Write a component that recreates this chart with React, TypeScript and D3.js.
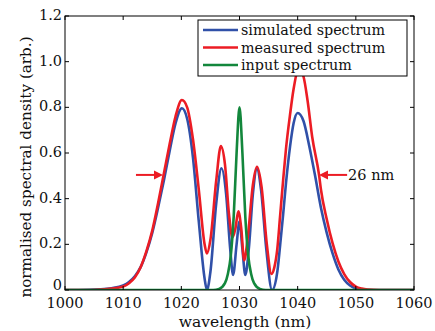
import React, { useMemo } from 'react';
import * as d3 from 'd3';

// [wavelength (nm), normalised spectral density]
const simulated: [number, number][] = [
  [1000, 0], [1004, 0.001], [1006, 0.003], [1008, 0.008], [1010, 0.02], [1011, 0.035],
  [1012, 0.06], [1013, 0.1], [1014, 0.165], [1015, 0.25], [1016, 0.36], [1017, 0.48],
  [1018, 0.61], [1019, 0.73], [1020.1, 0.796], [1021, 0.75], [1022, 0.58], [1023, 0.3],
  [1024, 0.05], [1024.4, 0], [1025, 0.08], [1026, 0.38], [1026.9, 0.533], [1027.7, 0.42],
  [1028.4, 0.18], [1028.9, 0.066], [1029.5, 0.2], [1030, 0.3], [1030.5, 0.18], [1031, 0.066],
  [1031.6, 0.18], [1032.3, 0.42], [1033, 0.53], [1033.7, 0.44], [1034.6, 0.18], [1035.6, 0],
  [1036.5, 0.08], [1037, 0.2], [1037.5, 0.33], [1038, 0.47], [1038.7, 0.63], [1039.3, 0.73],
  [1040, 0.775], [1041, 0.74], [1042, 0.63], [1043, 0.5], [1044, 0.36], [1045, 0.25],
  [1046, 0.16], [1047, 0.09], [1048, 0.045], [1049, 0.02], [1050, 0.007], [1051, 0.002],
  [1053, 0], [1060, 0],
];

const measured: [number, number][] = [
  [1000, 0], [1004, 0], [1006, 0.002], [1008, 0.006], [1010, 0.015], [1011, 0.03],
  [1012, 0.055], [1013, 0.1], [1014, 0.17], [1015, 0.26], [1016, 0.38], [1017, 0.51],
  [1018, 0.64], [1019, 0.76], [1020.1, 0.832], [1021, 0.8], [1022, 0.66], [1023, 0.44],
  [1024, 0.2], [1024.4, 0.16], [1025, 0.22], [1026, 0.48], [1026.8, 0.63], [1027.5, 0.55],
  [1028.2, 0.33], [1028.8, 0.23], [1029.3, 0.27], [1029.8, 0.345], [1030.3, 0.27],
  [1030.8, 0.13], [1031.5, 0.25], [1032.3, 0.46], [1033, 0.54], [1033.8, 0.45],
  [1034.7, 0.2], [1035.5, 0.07], [1036, 0.1], [1036.5, 0.18], [1037, 0.33], [1037.5, 0.48],
  [1038, 0.62], [1038.7, 0.77], [1039.3, 0.88], [1040.2, 0.97], [1041, 0.935],
  [1041.7, 0.83], [1042.5, 0.67], [1043.7, 0.5], [1044, 0.44], [1045, 0.31], [1046, 0.205],
  [1047, 0.125], [1048, 0.07], [1049, 0.035], [1050, 0.015], [1051, 0.006], [1052, 0.002],
  [1054, 0], [1060, 0],
];

const input: [number, number][] = [
  [1000, 0], [1025.5, 0], [1026.5, 0.005], [1027.5, 0.03], [1028, 0.07], [1028.5, 0.15],
  [1029, 0.32], [1029.5, 0.6], [1030, 0.8], [1030.5, 0.6], [1031, 0.32], [1031.5, 0.15],
  [1032, 0.07], [1032.5, 0.03], [1033.5, 0.005], [1034.5, 0], [1060, 0],
];

const xTicks = [1000, 1010, 1020, 1030, 1040, 1050, 1060];
const yTicks = [0, 0.2, 0.4, 0.6, 0.8, 1.0, 1.2];
const yTickLabels = ['0', '0.2', '0.4', '0.6', '0.8', '1.0', '1.2'];
const legendLabels = ['simulated spectrum', 'measured spectrum', 'input spectrum'];
const fwhmLabel = '26 nm';
// FWHM arrows: [tail x, tip x, y]
const fwhmArrows: [number, number, number][] = [
  [1012.2, 1016.85, 0.504],
  [1048.5, 1043.67, 0.504],
];

const BLUE = '#3050a8';
const RED = '#ec1c24';
const GREEN = '#13873c';
const FONT = 'DejaVu Serif';

const W = 435;
const H = 331;
const margin = { top: 16, right: 21, bottom: 41, left: 65 };

const App = () => {
  const innerWidth = W - margin.left - margin.right;
  const innerHeight = H - margin.top - margin.bottom;

  const { x, y, line } = useMemo(() => {
    const x = d3.scaleLinear().domain([1000, 1060]).range([0, innerWidth]);
    const y = d3.scaleLinear().domain([0, 1.2]).range([innerHeight, 0]);
    const line = d3.line<[number, number]>()
      .x(d => x(d[0]))
      .y(d => y(d[1]))
      .curve(d3.curveMonotoneX);
    return { x, y, line };
  }, [innerWidth, innerHeight]);

  const series = [
    { data: simulated, color: BLUE },
    { data: measured, color: RED },
    { data: input, color: GREEN },
  ];

  const tick = 4;

  return (
    <svg width={W} height={H} style={{ position: 'absolute', left: 0, top: 0, background: '#fff' }}
      fontFamily={FONT}>
      <defs>
        <clipPath id="plot">
          <rect x={0} y={0} width={innerWidth} height={innerHeight} />
        </clipPath>
      </defs>
      <g transform={`translate(${margin.left},${margin.top})`}>
        {/* curves */}
        <g clipPath="url(#plot)">
          {series.map((s, i) => (
            <path key={i} d={line(s.data) || ''} fill="none" stroke={s.color} strokeWidth={2.6}
              strokeLinejoin="round" />
          ))}
        </g>

        {/* frame and inward ticks */}
        <rect x={0} y={0} width={innerWidth} height={innerHeight} fill="none" stroke="#000" strokeWidth={1} />
        {xTicks.map(t => (
          <g key={`x${t}`}>
            <line x1={x(t)} x2={x(t)} y1={innerHeight} y2={innerHeight - tick} stroke="#000" />
            <line x1={x(t)} x2={x(t)} y1={0} y2={tick} stroke="#000" />
            <text x={x(t)} y={innerHeight + 18} textAnchor="middle" fontSize={14.5} fill="#111">{t}</text>
          </g>
        ))}
        {yTicks.map((t, i) => (
          <g key={`y${t}`}>
            <line x1={0} x2={tick} y1={y(t)} y2={y(t)} stroke="#000" />
            <line x1={innerWidth} x2={innerWidth - tick} y1={y(t)} y2={y(t)} stroke="#000" />
            {/* the zero label sits a little higher, clear of the x tick labels */}
            <text x={-3} y={y(t) - (i === 0 ? 5 : 1)} dy="0.35em" textAnchor="end" fontSize={14.5}
              fill="#111">{yTickLabels[i]}</text>
          </g>
        ))}

        {/* axis labels */}
        <text x={180} y={innerHeight + 36.5} textAnchor="middle" fontSize={15.5} fill="#111">
          wavelength (nm)
        </text>
        <text transform={`translate(${-34},${151}) rotate(-90)`} textAnchor="middle"
          fontSize={15.2} fill="#111">
          normalised spectral density (arb.)
        </text>

        {/* FWHM arrows */}
        {fwhmArrows.map(([x0, x1, yv], i) => {
          const dir = Math.sign(x(x1) - x(x0));
          const tipX = x(x1);
          const yy = y(yv);
          return (
            <g key={`a${i}`}>
              <line x1={x(x0)} x2={tipX - dir * 6} y1={yy} y2={yy} stroke={RED} strokeWidth={2} />
              <path d={`M${tipX},${yy} L${tipX - dir * 9},${yy - 4.5} L${tipX - dir * 9},${yy + 4.5} Z`} fill={RED} />
            </g>
          );
        })}
        <text x={x(fwhmArrows[1][0]) + 1} y={y(fwhmArrows[1][2])} dy="0.35em" fontSize={14.5} fill="#111">
          {fwhmLabel}
        </text>

        {/* legend */}
        <g transform={`translate(${198 - margin.left},${20 - margin.top})`}>
          <rect x={0} y={0} width={209} height={56} fill="#fff" stroke="#000" strokeWidth={1} />
          {legendLabels.map((l, i) => (
            <g key={l} transform={`translate(0,${10 + i * 17.5})`}>
              <line x1={5} x2={40} y1={0} y2={0} stroke={series[i].color} strokeWidth={2.6} />
              <text x={43} y={0} dy="0.35em" fontSize={14.3} fill="#111">{l}</text>
            </g>
          ))}
        </g>
      </g>
    </svg>
  );
};

export default App;
